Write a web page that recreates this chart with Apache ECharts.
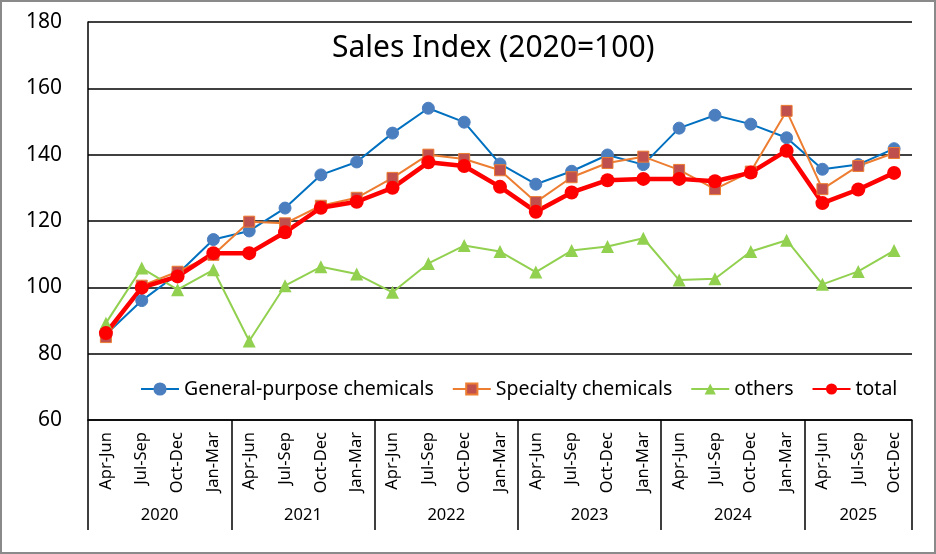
<!DOCTYPE html>
<html>
<head>
<meta charset="utf-8">
<script src="https://cdn.jsdelivr.net/npm/echarts@6/dist/echarts.min.js"></script>
<style>
  html, body { margin: 0; padding: 0; background: #fff; }
  #frame { width: 936px; height: 554px; box-sizing: border-box; border: 2px solid #8a8a8a; position: relative; }
  #chart { position: absolute; left: -2px; top: -2px; width: 936px; height: 554px; }
</style>
</head>
<body>
<div id="frame"><div id="chart"></div></div>
<script>
const quarters = ['Apr-Jun','Jul-Sep','Oct-Dec','Jan-Mar',
                  'Apr-Jun','Jul-Sep','Oct-Dec','Jan-Mar',
                  'Apr-Jun','Jul-Sep','Oct-Dec','Jan-Mar',
                  'Apr-Jun','Jul-Sep','Oct-Dec','Jan-Mar',
                  'Apr-Jun','Jul-Sep','Oct-Dec','Jan-Mar',
                  'Apr-Jun','Jul-Sep','Oct-Dec'];
const years = ['2020','2021','2022','2023','2024','2025'];
const yearQuarterCounts = [4,4,4,4,4,3];

const generalPurpose = [85.8,96,104,114.4,117,123.9,133.9,137.8,146.5,154,149.8,137.2,
                        131.1,135,139.9,137,148,151.9,149.2,145.1,135.6,137,141.8];
const specialty = [85,100.5,104.7,109.8,119.8,119.3,124.6,127,133,140,138.7,135.3,
                   125.7,133.2,137.5,139.4,135.4,129.6,134.9,153.2,129.6,136.6,140.5];
const others = [89.2,105.8,99.3,105.3,83.8,100.5,106.2,104,98.5,107.2,112.6,110.8,
                104.6,111.1,112.3,114.8,102.2,102.6,110.8,114.2,100.9,104.8,111.1];
const total = [86.2,99.9,103.3,110.3,110.3,116.6,124,125.8,130,137.7,136.6,130.3,
               122.8,128.6,132.3,132.7,132.7,132,134.6,141.2,125.4,129.5,134.5];

const yTicks = {min: 60, max: 180, interval: 20};

// year-boundary indices and year label centres (in quarter units)
const yearStarts = new Set();
const yearCentres = {};
let acc = 0;
yearQuarterCounts.forEach((c, i) => {
  yearStarts.add(acc);
  yearCentres[(acc + c / 2).toFixed(1)] = years[i];
  acc += c;
});

const FONT = '"Noto Sans", "Liberation Sans", sans-serif';
const chart = echarts.init(document.getElementById('chart'));
chart.setOption({
  animation: false,
  backgroundColor: 'transparent',
  title: {
    text: 'Sales Index (2020=100)',
    left: 327, top: 28,
    textStyle: { fontFamily: FONT, fontSize: 30, fontWeight: 'normal', color: '#000' }
  },
  legend: {
    left: 135, top: 374,
    itemWidth: 38, itemHeight: 14, itemGap: 18,
    textStyle: { fontFamily: FONT, fontSize: 19.5, color: '#000' },
    data: ['General-purpose chemicals','Specialty chemicals','others','total']
  },
  grid: { left: 88, right: 24, top: 22, bottom: 134, containLabel: false },
  xAxis: [{
    type: 'category',
    data: quarters,
    boundaryGap: true,
    axisLine: { show: true, lineStyle: { color: '#000', width: 1.5 } },
    axisTick: { show: true, length: 110, interval: (i) => yearStarts.has(i), lineStyle: { color: '#000', width: 1.5 } },
    axisLabel: { interval: 0, rotate: 90, margin: 12, fontFamily: FONT, fontSize: 16.5, color: '#000' },
    splitLine: { show: false }
  }, {
    type: 'value',
    min: 0, max: quarters.length, interval: 0.5,
    position: 'bottom',
    axisLine: { show: false }, axisTick: { show: false }, splitLine: { show: false },
    axisLabel: {
      margin: 87, fontFamily: FONT, fontSize: 16.5, color: '#000',
      showMinLabel: true, showMaxLabel: true,
      formatter: (v) => yearCentres[Number(v).toFixed(1)] || ''
    }
  }],
  yAxis: {
    type: 'value',
    min: yTicks.min, max: yTicks.max, interval: yTicks.interval,
    axisLine: { show: true, lineStyle: { color: '#000', width: 1.5 } },
    axisTick: { show: false },
    axisLabel: { margin: 26, fontFamily: FONT, fontSize: 21, color: '#000' },
    splitLine: { show: true, lineStyle: { color: '#000', width: 1.5 } }
  },
  series: [{
    name: 'General-purpose chemicals', type: 'line', data: generalPurpose,
    symbol: 'circle', symbolSize: 12,
    lineStyle: { color: '#0070C0', width: 2 },
    itemStyle: { color: '#4A7EBF', borderColor: '#4A7EBF', borderWidth: 1 }
  }, {
    name: 'Specialty chemicals', type: 'line', data: specialty,
    symbol: 'rect', symbolSize: 11,
    lineStyle: { color: '#ED7D31', width: 2 },
    itemStyle: { color: '#C0504D', borderColor: '#ED7D31', borderWidth: 1 }
  }, {
    name: 'others', type: 'line', data: others,
    symbol: 'triangle', symbolSize: 13,
    lineStyle: { color: '#92D050', width: 2 },
    itemStyle: { color: '#92D050' }
  }, {
    name: 'total', type: 'line', data: total,
    symbol: 'circle', symbolSize: 14,
    lineStyle: { color: '#FF0000', width: 4.5 },
    itemStyle: { color: '#FF0000' }
  }]
});
</script>
</body>
</html>
